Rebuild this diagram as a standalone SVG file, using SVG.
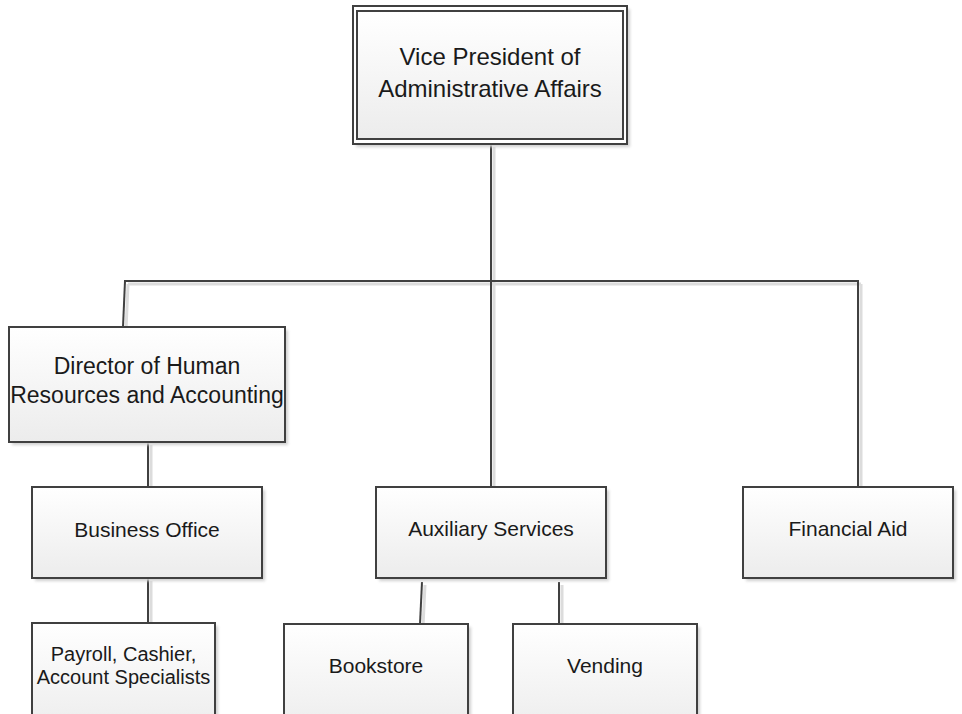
<svg xmlns="http://www.w3.org/2000/svg" width="962" height="714" viewBox="0 0 962 714">
  <defs>
    <linearGradient id="g" x1="0" y1="0" x2="0" y2="1">
      <stop offset="0" stop-color="#ffffff"/>
      <stop offset="1" stop-color="#ececec"/>
    </linearGradient>
    <filter id="sh" x="-10%" y="-10%" width="130%" height="130%">
      <feGaussianBlur stdDeviation="1.5"/>
    </filter>
    <style>
      .box { fill: url(#g); stroke: #404040; stroke-width: 2; }
      .shadow { fill: #d0d0d0; filter: url(#sh); }
      .conn { stroke: #404040; stroke-width: 2; fill: none; }
      .cshadow { stroke: #dcdcdc; stroke-width: 3; fill: none; }
      .t1 { font-family: "Liberation Sans", Arial, sans-serif; fill: #1a1a1a; text-anchor: middle; }
      .big { font-size: 24px; }
      .mid { font-size: 23px; }
      .sm { font-size: 21px; }
      .xs { font-size: 20px; }
    </style>
  </defs>
  <rect width="962" height="714" fill="#ffffff"/>

  <g id="connectors">
    <g transform="translate(3,3)">
      <path class="cshadow" d="M491 144 V281 M125 281 H858 M125 281 L123 327 M858 281 V487 M491 281 V487 M148 442 V487 M148 578 V623 M422 582 L420 624 M559 582 V624"/>
    </g>
    <path class="conn" d="M491 144 V281"/>
    <path class="conn" d="M124 281 H859"/>
    <path class="conn" d="M125 281 L123 327"/>
    <path class="conn" d="M858 281 V487"/>
    <path class="conn" d="M491 281 V487"/>
    <path class="conn" d="M148 442 V487"/>
    <path class="conn" d="M148 578 V623"/>
    <path class="conn" d="M422 582 L420 624"/>
    <path class="conn" d="M559 582 V624"/>
  </g>

  <g id="vp">
    <rect class="shadow" x="356" y="9" width="274" height="138"/>
    <rect x="353" y="6" width="274" height="138" fill="#ffffff" stroke="#404040" stroke-width="2"/>
    <rect class="box" x="357" y="11" width="266" height="128"/>
    <text class="t1 big" x="490" y="65">Vice President of</text>
    <text class="t1 big" x="490" y="97">Administrative Affairs</text>
  </g>

  <g id="director">
    <rect class="shadow" x="12" y="330" width="276" height="115"/>
    <rect class="box" x="9" y="327" width="276" height="115"/>
    <text class="t1 mid" x="147" y="374">Director of Human</text>
    <text class="t1 mid" x="147" y="403">Resources and Accounting</text>
  </g>

  <g id="business-office">
    <rect class="shadow" x="35" y="490" width="230" height="91"/>
    <rect class="box" x="32" y="487" width="230" height="91"/>
    <text class="t1 sm" x="147" y="537">Business Office</text>
  </g>

  <g id="auxiliary-services">
    <rect class="shadow" x="379" y="490" width="230" height="91"/>
    <rect class="box" x="376" y="487" width="230" height="91"/>
    <text class="t1 sm" x="491" y="536">Auxiliary Services</text>
  </g>

  <g id="financial-aid">
    <rect class="shadow" x="746" y="490" width="210" height="91"/>
    <rect class="box" x="743" y="487" width="210" height="91"/>
    <text class="t1 sm" x="848" y="536">Financial Aid</text>
  </g>

  <g id="payroll">
    <rect class="shadow" x="35" y="626" width="183" height="110"/>
    <rect class="box" x="32" y="623" width="183" height="110"/>
    <text class="t1 xs" x="123.5" y="661">Payroll, Cashier,</text>
    <text class="t1 xs" x="123.5" y="684">Account Specialists</text>
  </g>

  <g id="bookstore">
    <rect class="shadow" x="287" y="627" width="184" height="110"/>
    <rect class="box" x="284" y="624" width="184" height="110"/>
    <text class="t1 sm" x="376" y="673">Bookstore</text>
  </g>

  <g id="vending">
    <rect class="shadow" x="516" y="627" width="184" height="110"/>
    <rect class="box" x="513" y="624" width="184" height="110"/>
    <text class="t1 sm" x="605" y="673">Vending</text>
  </g>
</svg>
